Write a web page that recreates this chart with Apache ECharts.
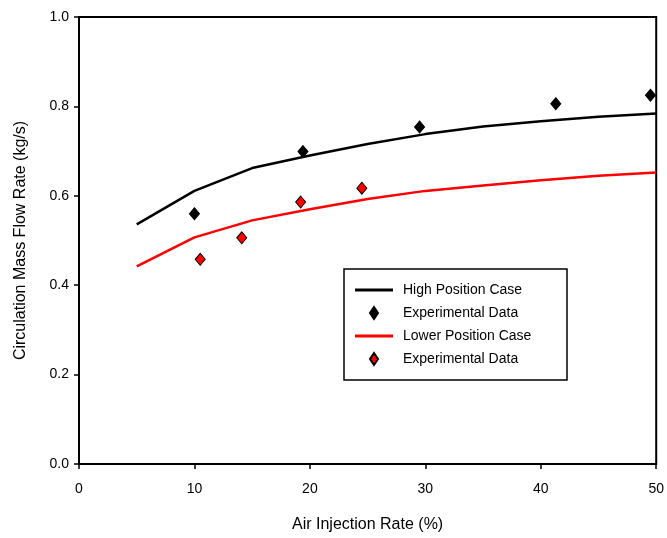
<!DOCTYPE html>
<html>
<head>
<meta charset="utf-8">
<script src="https://cdn.jsdelivr.net/npm/echarts@6/dist/echarts.min.js"></script>
<style>html,body{margin:0;padding:0;background:#fff}#c{width:667px;height:538px}</style>
</head>
<body>
<div id="c"></div>
<script>
var curveX = [5, 10, 15, 20, 25, 30, 35, 40, 45, 50];
var highCase = [0.536, 0.611, 0.662, 0.690, 0.716, 0.738, 0.755, 0.767, 0.777, 0.784];
var lowerCase = [0.442, 0.507, 0.545, 0.570, 0.593, 0.611, 0.623, 0.635, 0.645, 0.652];
var highExpX = [10.0, 19.4, 29.5, 41.3, 49.5];
var highExpY = [0.560, 0.699, 0.754, 0.806, 0.825];
var lowExpX = [10.5, 14.1, 19.2, 24.5];
var lowExpY = [0.458, 0.506, 0.586, 0.617];
var xTicks = [0, 10, 20, 30, 40, 50];
var yTicks = [0.0, 0.2, 0.4, 0.6, 0.8, 1.0];

function pairs(xs, ys) { return xs.map(function (x, i) { return [x, ys[i]]; }); }

var FONT = 'Liberation Sans';
var chart = echarts.init(document.getElementById('c'), null, { renderer: 'canvas' });
var diamondIcon = 'path://M4,0 L8,6 L4,12 L0,6 Z';
var lineIcon = 'path://M0,0 L38,0 L38,3 L0,3 Z';
chart.setOption({
  animation: false,
  backgroundColor: '#fff',
  textStyle: { fontFamily: FONT, color: '#000' },
  grid: { left: 79, top: 17, right: 8, bottom: 74, show: true, borderColor: '#000', borderWidth: 2, backgroundColor: 'transparent' },
  xAxis: {
    type: 'value', min: xTicks[0], max: xTicks[xTicks.length - 1], interval: 10,
    name: 'Air Injection Rate (%)', nameLocation: 'middle', nameGap: 53,
    nameTextStyle: { fontFamily: FONT, fontSize: 16, color: '#000' },
    axisLine: { show: true, lineStyle: { color: '#000', width: 2 } },
    axisTick: { show: true, inside: false, length: 5, lineStyle: { color: '#000', width: 1.5 } },
    axisLabel: { fontFamily: FONT, fontSize: 14, color: '#000', margin: 18 },
    splitLine: { show: false }
  },
  yAxis: {
    type: 'value', min: yTicks[0], max: yTicks[yTicks.length - 1], interval: 0.2,
    name: 'Circulation Mass Flow Rate (kg/s)', nameLocation: 'middle', nameGap: 50,
    nameTextStyle: { fontFamily: FONT, fontSize: 16, color: '#000' },
    axisLine: { show: true, lineStyle: { color: '#000', width: 2 } },
    axisTick: { show: true, inside: false, length: 5, lineStyle: { color: '#000', width: 1.5 } },
    axisLabel: { fontFamily: FONT, fontSize: 14, color: '#000', margin: 10, formatter: function (v) { return v.toFixed(1); } },
    splitLine: { show: false }
  },
  legend: {
    orient: 'vertical', left: 344, top: 269,
    padding: [14, 11, 14, 11],
    itemWidth: 38, itemHeight: 12, itemGap: 9,
    borderColor: '#000', borderWidth: 1.5, backgroundColor: '#fff',
    textStyle: { fontFamily: FONT, fontSize: 14, color: '#000', lineHeight: 13, padding: [0, 0, 0, 5], width: 153 },
    data: [
      { name: 'High Position Case', icon: lineIcon },
      { name: 'Experimental Data', icon: diamondIcon },
      { name: 'Lower Position Case', icon: lineIcon },
      { name: 'Experimental Data ', icon: diamondIcon }
    ]
  },
  series: [
    { name: 'High Position Case', type: 'line', data: pairs(curveX, highCase), symbol: 'none', lineStyle: { color: '#000', width: 2.5 }, itemStyle: { color: '#000' } },
    { name: 'Experimental Data', type: 'scatter', data: pairs(highExpX, highExpY), symbol: 'diamond', symbolSize: [10, 12], itemStyle: { color: '#000', borderColor: '#000', borderWidth: 1, opacity: 1 } },
    { name: 'Lower Position Case', type: 'line', data: pairs(curveX, lowerCase), symbol: 'none', lineStyle: { color: '#ff0000', width: 2.5 }, itemStyle: { color: '#ff0000' } },
    { name: 'Experimental Data ', type: 'scatter', data: pairs(lowExpX, lowExpY), symbol: 'diamond', symbolSize: [10, 12], itemStyle: { color: '#ff0000', borderColor: '#000', borderWidth: 1, opacity: 1 } }
  ]
});
</script>
</body>
</html>
